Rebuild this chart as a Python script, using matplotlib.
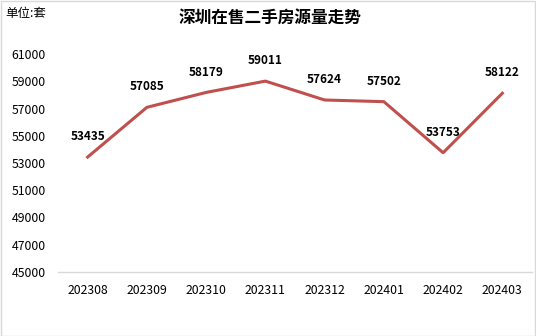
import matplotlib.pyplot as plt
from matplotlib.patches import Rectangle

plt.rcParams['font.family'] = ['Noto Sans CJK SC', 'DejaVu Sans']

months = ['202308', '202309', '202310', '202311', '202312', '202401', '202402', '202403']
listings = [53435, 57085, 58179, 59011, 57624, 57502, 53753, 58122]
yticks = list(range(45000, 61001, 2000))

fig = plt.figure(figsize=(5.36, 3.36), dpi=100)
ax = fig.add_axes([58 / 536, 64 / 336, 474 / 536, 218 / 336])

x = range(len(months))
ax.plot(x, listings, color='#C0504D', linewidth=2.2, solid_joinstyle='round')
for i, v in zip(x, listings):
    ax.annotate(str(v), (i, v), xytext=(0, 10), textcoords='offset points',
                ha='center', va='bottom', fontsize=8.5, fontweight='bold', color='black')

ax.set_xlim(-0.5, len(months) - 0.5)
ax.set_ylim(45000, 61000)
ax.set_xticks(list(x))
ax.set_xticklabels(months, fontsize=8.8)
ax.set_yticks(yticks)
ax.set_yticklabels([str(t) for t in yticks], fontsize=8.8)
ax.tick_params(length=0)
ax.tick_params(axis='x', pad=9)
ax.tick_params(axis='y', pad=9)
for s in ['top', 'right', 'left']:
    ax.spines[s].set_visible(False)
ax.spines['bottom'].set_color('#D9D9D9')
ax.spines['bottom'].set_linewidth(1)

fig.text(270 / 536, 1 - 19 / 336, '深圳在售二手房源量走势', ha='center', va='center',
         fontsize=12, fontweight='bold')
fig.text(5 / 536, 1 - 13 / 336, '单位:套', ha='left', va='center', fontsize=9)

fig.patches.append(Rectangle((0.5 / 536, 0.5 / 336), 1 - 1.5 / 536, 1 - 1.5 / 336,
                             transform=fig.transFigure, fill=False,
                             edgecolor='#D9D9D9', linewidth=1))

fig.savefig('out.png', dpi=100)
